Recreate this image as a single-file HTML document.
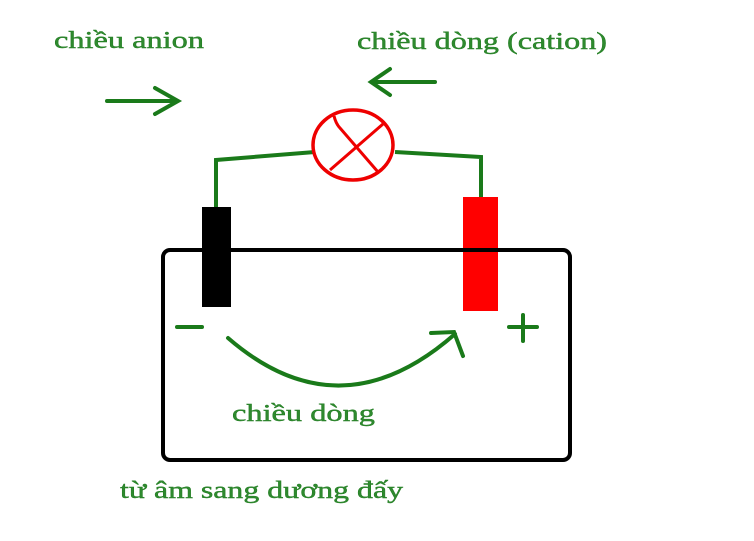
<!DOCTYPE html>
<html><head><meta charset="utf-8"><style>
html,body{margin:0;padding:0;background:#fff;width:754px;height:541px;overflow:hidden}
svg text{font-family:"Liberation Serif","DejaVu Serif",serif;fill:#2f8a2f;stroke:#1f7a1f;stroke-width:0.4;font-size:24px}
</style></head><body>
<svg width="754" height="541" viewBox="0 0 754 541" xmlns="http://www.w3.org/2000/svg">
<text x="54" y="48" textLength="150" lengthAdjust="spacingAndGlyphs">chiều anion</text>
<text x="357" y="49" textLength="250" lengthAdjust="spacingAndGlyphs">chiều dòng (cation)</text>
<g stroke="#1a7a1a" stroke-width="4" stroke-linecap="round" fill="none">
<line x1="107" y1="101" x2="175" y2="101"/>
<polyline points="155,88 178,101 155,114"/>
<line x1="373" y1="82" x2="435" y2="82"/>
<polyline points="390,69 371,82 390,95"/>
<polyline points="315,152 216,160 216,207" stroke-linecap="butt"/>
<polyline points="395,152 481,157 481,198" stroke-linecap="butt"/>
<line x1="177" y1="327" x2="202" y2="327"/>
<line x1="509" y1="327" x2="537" y2="327"/>
<line x1="523" y1="315" x2="523" y2="341"/>
<path d="M228,338 Q340,435 455,334"/>
<polyline points="431,333 454,332 463,356"/>
</g>
<ellipse cx="353" cy="145" rx="40" ry="35" fill="none" stroke="#e00" stroke-width="3.5"/>
<g stroke="#e00" stroke-width="3" fill="none">
<path d="M334,116 Q336,124 340,128 L378,172 M383,124 L330,170"/>
</g>
<rect x="202" y="207" width="29" height="100" fill="#000"/>
<rect x="463" y="197" width="35" height="114" fill="#f00"/>
<rect x="163" y="250" width="407" height="210" rx="7" fill="none" stroke="#000" stroke-width="4"/>
<text x="232" y="421" textLength="143" lengthAdjust="spacingAndGlyphs">chiều dòng</text>
<text x="120" y="498" textLength="283" lengthAdjust="spacingAndGlyphs">từ âm sang dương đấy</text>
</svg>
</body></html>
